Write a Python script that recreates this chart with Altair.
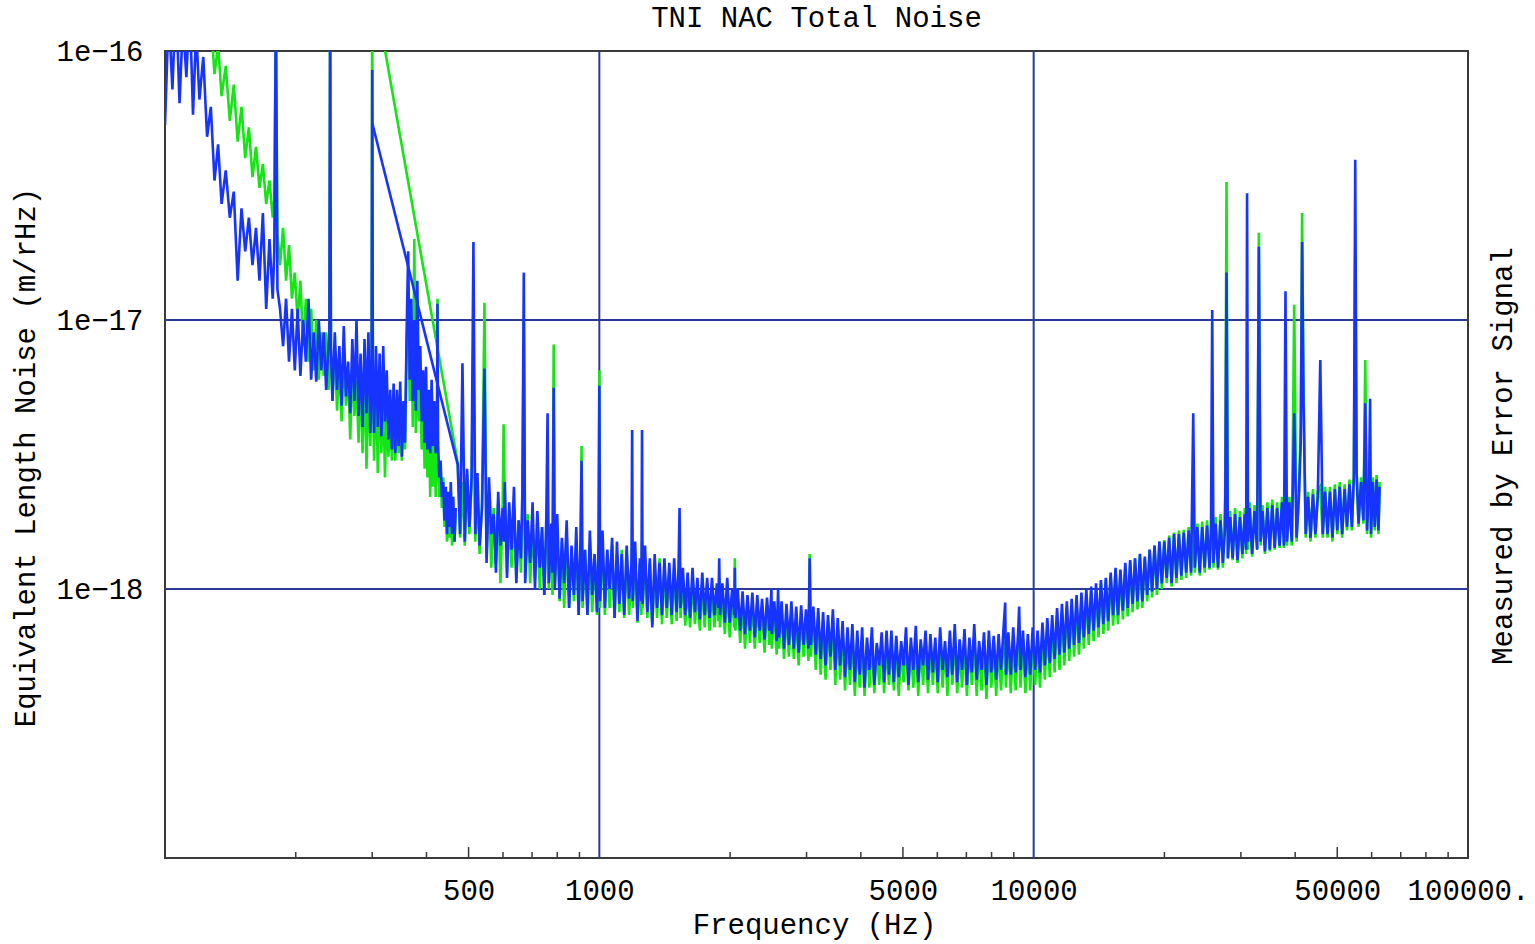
import altair as alt
import pandas as pd

# ---------------- data (values in units of 1e-18 m/rHz) ----------------
UNIT = 1e-18

# low-frequency segment (Hz)
freq_a = [
    100, 102, 104, 106, 108, 110, 112, 114, 116, 118,
    120, 122.5, 125, 127.5, 130, 132.5, 135, 138, 141, 144,
    147, 150, 153, 156, 159, 162, 165, 168, 171, 174,
    177, 178.5, 180, 181.5, 184, 187, 190, 193, 196, 199,
    202, 205, 208, 211, 214, 217, 220, 223, 226, 229,
    232, 235, 238, 239, 240, 241, 243, 246, 249, 252,
    255, 258, 261, 264, 267, 270, 273, 276, 279, 282,
    285, 288, 291, 294, 297, 299, 300, 301, 303, 306,
    309, 312, 315, 318, 321, 324, 327, 330, 333, 336,
    339, 342, 345, 348, 351, 354, 357, 360, 363, 366,
    369, 372, 375, 378, 381, 384, 387, 390, 393, 396,
    399, 402, 405, 408, 411, 414, 417, 420, 423, 424,
    425, 428, 431, 434, 437, 440, 443, 446, 449, 452,
    455, 458, 461, 464, 467,
]
blue_a = [
    53, 140, 72, 160, 64, 130, 80, 150, 58, 120,
    66, 95, 48, 62, 33, 45, 27, 36, 24, 30,
    14, 26, 18, 24, 16, 22, 14, 25, 11, 20,
    12, 18, 150, 13, 11, 8, 12, 7, 11, 6.5,
    11, 6.2, 10, 7, 12, 6, 9, 5.9, 10, 6.5,
    9, 5.5, 8, 9, 150, 8, 5, 9, 5.5, 8,
    4.8, 9.5, 5.2, 7, 4.5, 8.5, 5, 10, 4.4, 7.5,
    4, 8.5, 4.5, 9, 3.8, 7, 85, 6, 3.8, 8,
    4, 7.5, 3.7, 8, 4.2, 6.5, 3.6, 5.5, 3.3, 5.8,
    3.2, 5.5, 3.4, 5.9, 3.1, 5, 3.5, 9, 18, 6,
    12, 5, 10, 4.6, 14, 5.5, 8, 4.2, 6.5, 3.5,
    6.7, 3.3, 5.5, 3.2, 6, 3.4, 5, 3.2, 4, 11.5,
    3.5, 2.6, 3, 2.2, 2.5, 1.8, 2.4, 1.6, 2.3, 1.7,
    2.5, 1.6, 2.2, 1.5, 2.0,
]
green_a = [
    220, 180, 250, 170, 230, 160, 210, 150, 190, 140,
    170, 125, 105, 130, 82, 105, 68, 88, 55, 75,
    46, 62, 40, 52, 34, 44, 31, 38, 27, 33,
    24, 28, 130, 21, 16, 22, 14, 19, 12, 15,
    10, 14, 8, 12, 7, 11, 6.5, 10, 6, 9,
    6.2, 9, 5.5, 7, 150, 7.5, 5, 8, 4.6, 7,
    4.2, 8, 4.8, 6.5, 3.6, 7, 4.4, 6, 3.5, 6.5,
    3.2, 7, 2.8, 6, 3.4, 6.5, 200, 5.5, 3, 6.5,
    2.7, 6, 3.2, 5.5, 2.6, 5, 3.1, 4.8, 3, 5,
    3, 4.6, 3.2, 5, 3, 4.5, 3.3, 8, 12, 5,
    9, 4, 20, 3.8, 10, 4.2, 6, 3.3, 5, 2.8,
    5.5, 2.6, 4.5, 2.2, 5, 2.4, 4, 2.2, 3.5, 12,
    3.2, 2.2, 2.8, 2.0, 2.6, 1.7, 2.3, 1.5, 2.1, 1.55,
    2.3, 1.45, 2.0, 1.5, 1.9,
]

# main segment (Hz)
freq_b = [
    300, 472, 478, 484, 490, 496, 502, 508, 513, 518,
    524, 530, 537, 544, 550, 557, 564, 571, 578, 585,
    592, 599, 602, 606, 613, 620, 628, 636, 644, 652,
    660, 665, 670, 675, 684, 693, 702, 711, 720, 729,
    738, 747, 755, 760, 765, 775, 780, 785, 790, 800,
    810, 820, 830, 841, 852, 863, 874, 885, 896, 905,
    910, 915, 927, 939, 951, 963, 975, 988, 996, 1000,
    1004, 1017, 1030, 1043, 1056, 1070, 1084, 1098, 1112, 1126,
    1141, 1156, 1171, 1186, 1190, 1194, 1209, 1224, 1240, 1250,
    1254, 1258, 1274, 1290, 1307, 1324, 1341, 1358, 1376, 1394,
    1412, 1430, 1449, 1468, 1487, 1506, 1522, 1530, 1538, 1557,
    1577, 1597, 1618, 1639, 1660, 1682, 1704, 1726, 1748, 1771,
    1794, 1817, 1841, 1865, 1880, 1888, 1896, 1920, 1945, 1970,
    1996, 2022, 2045, 2051, 2057, 2083, 2110, 2137, 2165, 2193,
    2222, 2251, 2280, 2310, 2340, 2370, 2401, 2432, 2464, 2490,
    2496, 2528, 2561, 2580, 2594, 2628, 2662, 2697, 2732, 2768,
    2804, 2840, 2877, 2915, 2953, 2991, 3030, 3050, 3070, 3110,
    3150, 3191, 3233, 3275, 3318, 3361, 3405, 3449, 3494, 3539,
    3585, 3632, 3679, 3727, 3776, 3825, 3875, 3925, 3976, 4028,
    4080, 4133, 4187, 4242, 4297, 4353, 4410, 4467, 4525, 4584,
    4644, 4704, 4765, 4827, 4890, 4954, 5018, 5083, 5149, 5216,
    5284, 5353, 5423, 5494, 5565, 5637, 5711, 5785, 5860, 5936,
    6013, 6091, 6170, 6250, 6331, 6413, 6497, 6581, 6667, 6754,
    6841, 6930, 7020, 7112, 7204, 7298, 7393, 7489, 7586, 7685,
    7785, 7886, 7988, 8092, 8197, 8304, 8412, 8521, 8600, 8632,
    8744, 8858, 8973, 9090, 9208, 9260, 9327, 9448, 9571, 9696,
    9822, 9949, 10079, 10210, 10342, 10477, 10613, 10751, 10891, 11033,
    11176, 11321, 11468, 11617, 11768, 11921, 12076, 12233, 12392, 12553,
    12717, 12882, 13050, 13219, 13391, 13565, 13742, 13920, 14101, 14285,
    14471, 14659, 14849, 15042, 15238, 15436, 15637, 15840, 16046, 16255,
    16466, 16680, 16897, 17117, 17339, 17565, 17793, 18025, 18259, 18496,
    18737, 18980, 19227, 19477, 19730, 19987, 20246, 20510, 20776, 21046,
    21320, 21597, 21878, 22162, 22450, 22742, 23038, 23300, 23500, 23814,
    24124, 24437, 24755, 25077, 25403, 25600, 25770, 25940, 26233, 26574,
    26919, 27269, 27600, 27800, 28000, 28346, 28714, 29088, 29466, 29849,
    30237, 30630, 30850, 31000, 31150, 31432, 31840, 32254, 32700, 33000,
    33300, 33645, 34082, 34525, 34974, 35429, 35889, 36356, 36828, 37307,
    37700, 38000, 38300, 38780, 39300, 39800, 40300, 40800, 41200, 41500,
    41800, 42300, 42840, 43400, 43960, 44530, 45100, 45700, 46300, 46880,
    47490, 48110, 48740, 49370, 50010, 50660, 51320, 51990, 52660, 53350,
    54040, 54600, 55000, 55400, 55980, 56710, 57440, 58000, 58560, 59200,
    59500, 59800, 60400, 61000, 61600, 62200, 62600,
]
blue_b = [
    54, 2.9, 1.6, 6.9, 1.5, 2.8, 1.7, 2.6, 19.5, 1.6,
    2.7, 1.45, 2.0, 6.6, 1.25, 2.6, 1.6, 1.9, 1.15, 2.3,
    1.45, 2.0, 1.5, 2.5, 1.1, 2.1, 1.4, 2.4, 1.05, 1.8,
    1.3, 2.3, 15, 1.05, 1.8, 1.25, 2.1, 1.0, 1.95, 1.2,
    1.7, 0.95, 1.85, 4.5, 1.05, 1.75, 1.15, 5.6, 1.0, 1.9,
    0.92, 1.55, 1.05, 1.8, 0.85, 1.45, 0.95, 1.7, 0.8, 1.5,
    3.0, 0.9, 1.4, 0.8, 1.65, 0.95, 1.35, 0.82, 1.5, 5.7,
    0.9, 1.65, 0.85, 1.4, 1.0, 1.55, 0.78, 1.5, 0.88, 1.35,
    0.8, 1.45, 0.92, 1.25, 3.9, 0.9, 1.5, 0.76, 1.3, 0.9,
    3.9, 0.88, 1.45, 0.82, 1.3, 0.72, 1.35, 0.85, 1.25, 0.8,
    1.3, 0.85, 1.25, 0.8, 1.3, 0.82, 1.2, 2.0, 0.85, 1.2,
    0.8, 1.15, 0.78, 1.2, 0.82, 1.1, 0.77, 1.15, 0.8, 1.1,
    0.78, 1.1, 0.8, 1.05, 0.85, 1.3, 0.8, 1.05, 0.75, 1.1,
    0.75, 1.0, 0.8, 1.2, 0.78, 1.0, 0.7, 0.98, 0.68, 0.95,
    0.7, 0.97, 0.66, 0.95, 0.7, 0.92, 0.65, 0.93, 0.7, 1.0,
    0.68, 0.9, 0.64, 1.0, 0.66, 0.9, 0.6, 0.88, 0.62, 0.9,
    0.6, 0.86, 0.58, 0.87, 0.62, 0.84, 0.6, 1.3, 0.62, 0.86,
    0.57, 0.85, 0.55, 0.82, 0.52, 0.8, 0.56, 0.84, 0.5, 0.78,
    0.52, 0.76, 0.47, 0.72, 0.5, 0.74, 0.45, 0.7, 0.48, 0.72,
    0.43, 0.66, 0.5, 0.72, 0.44, 0.63, 0.52, 0.69, 0.45, 0.7,
    0.48, 0.7, 0.45, 0.67, 0.47, 0.64, 0.52, 0.72, 0.44, 0.66,
    0.5, 0.73, 0.45, 0.65, 0.52, 0.7, 0.46, 0.68, 0.49, 0.66,
    0.45, 0.72, 0.5, 0.64, 0.47, 0.7, 0.48, 0.74, 0.45, 0.65,
    0.5, 0.71, 0.44, 0.66, 0.49, 0.74, 0.46, 0.64, 0.5, 0.69,
    0.44, 0.7, 0.49, 0.67, 0.46, 0.68, 0.5, 0.71, 0.89, 0.48,
    0.69, 0.48, 0.72, 0.49, 0.68, 0.86, 0.5, 0.7, 0.47, 0.68,
    0.48, 0.72, 0.5, 0.7, 0.49, 0.75, 0.52, 0.78, 0.53, 0.8,
    0.55, 0.85, 0.57, 0.88, 0.58, 0.9, 0.6, 0.92, 0.62, 0.95,
    0.63, 0.97, 0.66, 1.0, 0.68, 1.02, 0.7, 1.05, 0.72, 1.08,
    0.74, 1.1, 0.76, 1.15, 0.8, 1.2, 0.8, 1.18, 0.83, 1.25,
    0.85, 1.28, 0.88, 1.3, 0.9, 1.35, 0.9, 1.32, 0.95, 1.4,
    0.98, 1.45, 1.0, 1.5, 1.05, 1.5, 1.1, 1.55, 1.05, 1.6,
    1.1, 1.6, 1.12, 1.62, 1.15, 1.65, 1.15, 4.5, 1.2, 1.7,
    1.15, 1.7, 1.2, 1.72, 1.2, 1.6, 10.9, 1.25, 1.75, 1.2,
    1.8, 1.25, 1.7, 15, 1.3, 1.85, 1.3, 1.9, 1.28, 1.85,
    1.35, 1.9, 1.4, 29.6, 1.5, 2.0, 1.35, 1.95, 1.4, 18.7,
    1.5, 1.95, 1.38, 2.0, 1.4, 2.05, 1.42, 2.0, 1.45, 2.1,
    1.45, 12.8, 1.5, 2.1, 1.5, 4.5, 1.55, 2.2, 3.5, 19.5,
    5, 1.6, 2.2, 1.55, 2.25, 1.6, 2.2, 7.1, 1.6, 2.3,
    1.6, 2.3, 1.55, 2.35, 1.65, 2.4, 1.6, 2.35, 1.7, 2.45,
    1.7, 2.6, 39.4, 2.7, 1.75, 2.5, 1.8, 4.9, 1.65, 2.5,
    5.1, 1.6, 2.5, 1.7, 2.55, 1.65, 2.4,
]
green_b = [
    187, 2.95, 1.55, 2.5, 1.45, 2.7, 1.6, 2.4, 8.7, 1.5,
    2.3, 1.35, 2.1, 11.6, 1.3, 2.2, 1.2, 2.0, 1.25, 2.1,
    1.05, 2.0, 4.1, 2.1, 1.15, 1.9, 1.2, 2.0, 1.1, 1.8,
    1.15, 1.9, 10, 1.1, 1.9, 1.05, 1.7, 1.1, 1.9, 1.0,
    1.7, 0.95, 1.6, 2.0, 1.0, 1.7, 0.95, 8.1, 1.05, 1.6,
    0.9, 1.5, 0.85, 1.55, 0.85, 1.4, 0.9, 1.5, 0.8, 1.3,
    3.4, 0.85, 1.4, 0.8, 1.45, 0.82, 1.35, 0.8, 1.2, 6.5,
    0.85, 1.45, 0.8, 1.4, 0.85, 1.45, 0.78, 1.35, 0.82, 1.4,
    0.78, 1.3, 0.8, 1.2, 1.5, 0.85, 1.35, 0.75, 1.25, 0.8,
    1.5, 0.85, 1.3, 0.78, 1.25, 0.74, 1.2, 0.78, 1.3, 0.74,
    1.2, 0.78, 1.15, 0.74, 1.2, 0.76, 1.1, 1.4, 0.78, 1.1,
    0.73, 1.05, 0.72, 1.1, 0.74, 1.0, 0.7, 1.05, 0.72, 1.0,
    0.7, 1.0, 0.72, 0.98, 0.76, 1.1, 0.72, 0.98, 0.68, 1.0,
    0.66, 0.95, 0.72, 1.3, 0.7, 0.93, 0.63, 0.9, 0.6, 0.9,
    0.63, 0.9, 0.6, 0.88, 0.63, 0.86, 0.58, 0.87, 0.62, 0.9,
    0.6, 0.85, 0.57, 0.9, 0.6, 0.84, 0.55, 0.82, 0.56, 0.84,
    0.55, 0.8, 0.52, 0.8, 0.56, 0.78, 0.54, 1.35, 0.56, 0.8,
    0.5, 0.78, 0.48, 0.76, 0.46, 0.74, 0.5, 0.78, 0.44, 0.72,
    0.46, 0.7, 0.42, 0.67, 0.44, 0.68, 0.4, 0.65, 0.43, 0.66,
    0.4, 0.63, 0.43, 0.65, 0.41, 0.62, 0.44, 0.65, 0.41, 0.62,
    0.44, 0.63, 0.42, 0.65, 0.4, 0.6, 0.45, 0.64, 0.42, 0.61,
    0.43, 0.65, 0.4, 0.62, 0.44, 0.66, 0.41, 0.61, 0.44, 0.63,
    0.41, 0.65, 0.43, 0.61, 0.4, 0.64, 0.44, 0.67, 0.41, 0.62,
    0.43, 0.65, 0.4, 0.63, 0.44, 0.66, 0.4, 0.61, 0.42, 0.65,
    0.39, 0.63, 0.43, 0.65, 0.4, 0.61, 0.42, 0.64, 0.6, 0.43,
    0.64, 0.41, 0.66, 0.42, 0.62, 0.6, 0.43, 0.65, 0.41, 0.63,
    0.42, 0.67, 0.44, 0.65, 0.43, 0.7, 0.46, 0.72, 0.47, 0.74,
    0.49, 0.8, 0.5, 0.82, 0.52, 0.85, 0.54, 0.87, 0.56, 0.9,
    0.57, 0.92, 0.6, 0.95, 0.62, 0.98, 0.64, 1.0, 0.66, 1.05,
    0.68, 1.08, 0.7, 1.12, 0.73, 1.18, 0.74, 1.15, 0.77, 1.22,
    0.79, 1.26, 0.82, 1.3, 0.84, 1.33, 0.85, 1.3, 0.9, 1.4,
    0.93, 1.45, 0.95, 1.5, 1.0, 1.52, 1.05, 1.58, 1.02, 1.62,
    1.05, 1.65, 1.08, 1.66, 1.1, 1.7, 1.12, 2.0, 1.15, 1.75,
    1.12, 1.78, 1.15, 1.8, 1.18, 1.7, 2.2, 1.2, 1.85, 1.18,
    1.9, 1.2, 2.2, 32.6, 1.3, 1.95, 1.28, 2.0, 1.25, 1.95,
    1.3, 2.0, 1.35, 3.0, 1.4, 2.1, 1.32, 2.05, 1.4, 21.1,
    1.45, 2.05, 1.35, 2.1, 1.38, 2.15, 1.4, 2.1, 1.42, 2.2,
    1.42, 2.5, 1.45, 2.2, 1.45, 11.4, 1.5, 2.3, 4, 25,
    6, 1.55, 2.3, 1.5, 2.35, 1.55, 2.3, 2.4, 1.55, 2.4,
    1.55, 2.4, 1.5, 2.45, 1.6, 2.5, 1.55, 2.45, 1.65, 2.55,
    1.65, 2.7, 17.2, 2.8, 1.7, 2.6, 1.75, 7.1, 1.6, 2.6,
    2.4, 1.55, 2.6, 1.65, 2.65, 1.6, 2.5,
]

# axis decorations
x_label_values = [500, 1000, 5000, 10000, 50000, 100000]
y_label_values = [1e-16, 1e-17, 1e-18]
grid_x = [1000, 10000]
grid_y = [1e-17, 1e-18]
minor_ticks = [200, 300, 400, 600, 700, 800, 900,
               2000, 3000, 4000, 6000, 7000, 8000, 9000,
               20000, 30000, 40000, 60000, 70000, 80000, 90000]
major_ticks = [500, 5000, 50000]

# ---------------- build tables ----------------
rows = []
for seg, fr, bl, gr in (("a", freq_a, blue_a, green_a), ("b", freq_b, blue_b, green_b)):
    n = min(len(fr), len(bl), len(gr))
    for i in range(n):
        rows.append({"f": fr[i], "v": bl[i] * UNIT, "series": "blue", "seg": seg, "i": i})
        rows.append({"f": fr[i], "v": gr[i] * UNIT, "series": "green", "seg": seg, "i": i})
df = pd.DataFrame(rows)

FONT = "Liberation Mono"
FS = 29
BLUE = "#1733ff"
GREEN = "#14e614"
NAVY = "#2b3a96"
FRAME = "#3a3a3a"

W, H = 1303, 807
xs = alt.Scale(type="log", domain=[100, 100000], nice=False)
ys = alt.Scale(type="log", domain=[1e-19, 1e-16], nice=False)

x_axis = alt.Axis(
    values=x_label_values,
    labelExpr="datum.value >= 100000 ? '100000.' : format(datum.value, 'd')",
    ticks=False, grid=False, domain=False,
    labelFont=FONT, labelFontSize=FS, labelColor="black", labelPadding=18,
    labelFlush=False, labelOverlap=False,
    title="Frequency (Hz)", titleFont=FONT, titleFontSize=FS, titleFontWeight="normal",
    titleColor="black", titleX=649, titleY=66, titleAlign="center", titleBaseline="middle",
)
y_axis = alt.Axis(
    values=y_label_values,
    labelExpr="'1e' + format(round(log(datum.value) / LN10), 'd')",
    ticks=False, grid=False, domain=False,
    labelFont=FONT, labelFontSize=FS, labelColor="black", labelPadding=22,
    labelOverlap=False, labelFlush=False,
    title="Equivalent Length Noise (m/rHz)", titleFont=FONT, titleFontSize=FS,
    titleFontWeight="normal", titleColor="black", titleX=-140, titleY=406,
    titleAngle=270, titleAlign="center", titleBaseline="middle",
)

X = alt.X("f:Q", scale=xs, axis=x_axis)
Y = alt.Y("v:Q", scale=ys, axis=y_axis)
LW = 2.6

base = alt.Chart(df)

green_line = base.transform_filter(alt.datum.series == "green").mark_line(
    color=GREEN, strokeWidth=LW, clip=True
).encode(x=X, y=Y, detail="seg:N", order="i:Q")
blue_line = base.transform_filter(alt.datum.series == "blue").mark_line(
    color=BLUE, strokeWidth=LW, clip=True
).encode(x=X, y=Y, detail="seg:N", order="i:Q")

gx = alt.Chart(pd.DataFrame({"f": grid_x})).mark_rule(color=NAVY, strokeWidth=2).encode(x=X)
gy = alt.Chart(pd.DataFrame({"v": grid_y})).mark_rule(color=NAVY, strokeWidth=2).encode(y=Y)
minor = alt.Chart(pd.DataFrame({"f": minor_ticks})).mark_rule(color=FRAME, strokeWidth=1.5).encode(
    x=X, y=alt.value(H - 6), y2=alt.value(H)
)
major = alt.Chart(pd.DataFrame({"f": major_ticks})).mark_rule(color=FRAME, strokeWidth=1.5).encode(
    x=X, y=alt.value(H - 11), y2=alt.value(H)
)
right_title = alt.Chart(pd.DataFrame({"t": ["Measured by Error Signal"]})).mark_text(
    font=FONT, fontSize=FS, angle=270, align="center", baseline="middle", color="black"
).encode(x=alt.value(1338), y=alt.value(405), text="t:N")

chart = alt.layer(gx, gy, green_line, blue_line, minor, major, right_title).properties(
    width=W, height=H,
    title=alt.TitleParams("TNI NAC Total Noise", font=FONT, fontSize=FS, fontWeight="normal",
                          color="black", anchor="middle", offset=4),
    autosize=alt.AutoSizeParams(type="none"),
    padding={"left": 165, "top": 51, "right": 67, "bottom": 86},
).configure(background="white").configure_view(stroke=FRAME, strokeWidth=2)

chart.save("out.html", embed_options={"renderer": "svg", "actions": False})
